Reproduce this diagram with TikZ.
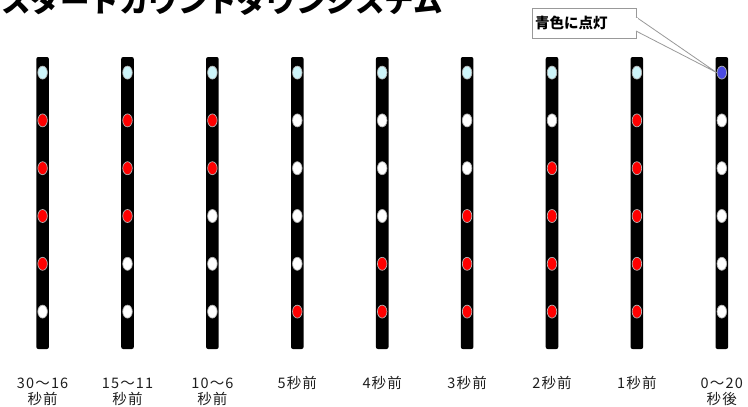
\documentclass[tikz,border=0pt]{standalone}
\usepackage{fontspec}
\setmainfont{Noto Sans CJK JP}
\newfontfamily\lblfont{Noto Sans CJK JP}[LetterSpace=8]
\usetikzlibrary{shapes.geometric}
\definecolor{lampr}{RGB}{255,0,0}
\definecolor{lampw}{RGB}{255,255,255}
\definecolor{lampc}{RGB}{205,245,250}
\definecolor{lampb}{RGB}{75,75,225}
\definecolor{lblgray}{RGB}{30,30,30}
\tikzset{
  polebar/.style={fill=black, rounded corners=2pt},
  lamp/.style={ellipse, minimum width=9.5pt, minimum height=13pt, inner sep=0pt, draw=gray!60, line width=0.7pt},
  lbl/.style={anchor=base, inner sep=0pt, text=lblgray, font=\lblfont\fontsize{14.5}{16}\selectfont},
  callbox/.style={draw=gray!80, fill=white, line width=0.8pt, minimum width=104pt, minimum height=30pt, inner sep=0pt},
}
\begin{document}
\begin{tikzpicture}[x=1pt,y=-1pt]
\useasboundingbox (0,0) rectangle (748,407);
\clip (0,0) rectangle (748,407);
\node[anchor=base west, inner sep=0pt, font=\bfseries\fontsize{29.5}{30}\selectfont] (title) at (1,12) {スタートカウントダウンシステム};
\foreach \i/\tp/\st/\la/\lb in {
  0/c/{r,r,r,r,w}/30～16/秒前,
  1/c/{r,r,r,w,w}/15～11/秒前,
  2/c/{r,r,w,w,w}/10～6/秒前,
  3/c/{w,w,w,w,r}/5秒前/,
  4/c/{w,w,w,r,r}/4秒前/,
  5/c/{w,w,r,r,r}/3秒前/,
  6/c/{w,r,r,r,r}/2秒前/,
  7/c/{r,r,r,r,r}/1秒前/,
  8/b/{w,w,w,w,w}/0～20/秒後}{
  \pgfmathsetmacro{\px}{42.6+84.9*\i}
  \fill[polebar] (\px-6.3,57) rectangle (\px+6.3,349);
  \node[lamp, fill=lamp\tp] (L\i-0) at (\px,72.6) {};
  \foreach \s [count=\k] in \st {
    \node[lamp, fill=lamp\s] (L\i-\k) at (\px,72.6+47.8*\k) {};
  }
  \node[lbl] (la\i) at (\px,388) {\la};
  \node[lbl] (lb\i) at (\px,404.5) {\lb};
}
\node[callbox] (call) at (584,23) {};
\coordinate (t1) at (636,17);
\coordinate (t2) at (636,31);
\filldraw[fill=white, draw=gray!80, line width=0.8pt] (t1) -- (L8-0.west) -- (t2);
\fill[white] (635,17.6) rectangle (637.5,30.4);
\node[anchor=west, inner sep=0pt, font=\bfseries\fontsize{14.5}{16}\selectfont] (calltext) at (535,23) {青色に点灯};
\end{tikzpicture}
\end{document}
